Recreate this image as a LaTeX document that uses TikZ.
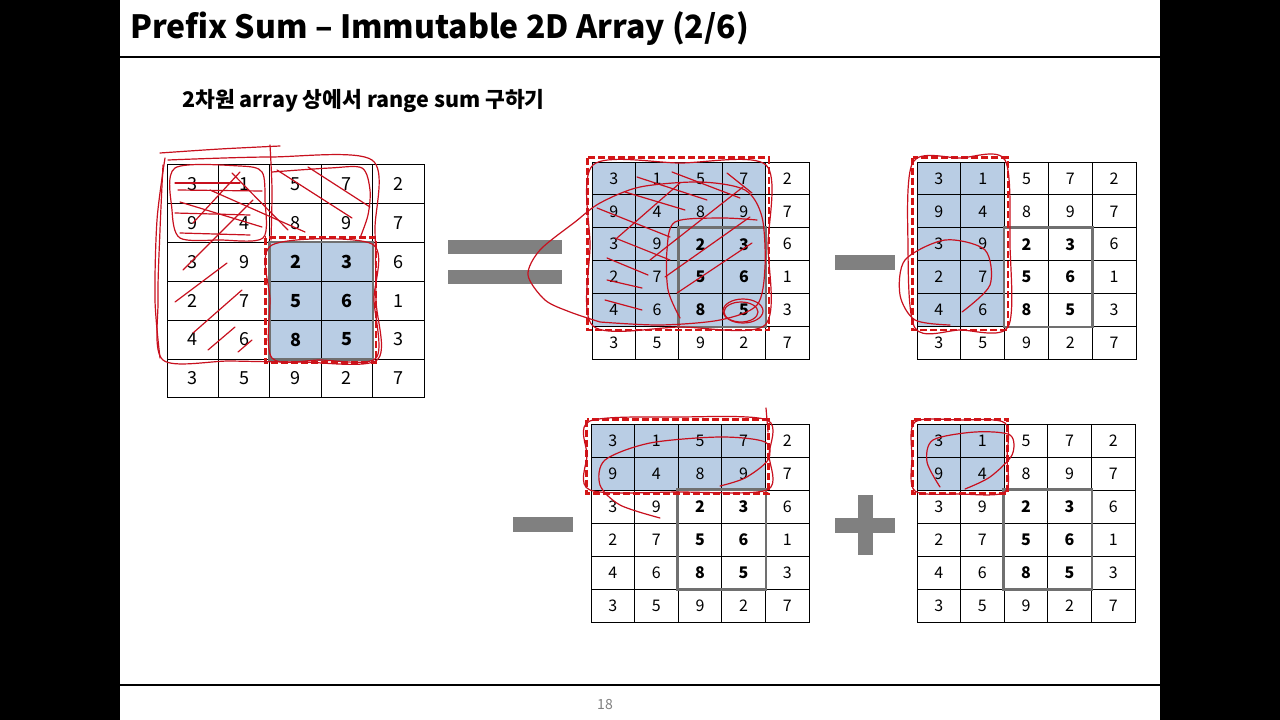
\documentclass[tikz,border=0pt]{standalone}
\usepackage{fontspec}
\setmainfont{Noto Sans CJK KR}
\usetikzlibrary{calc}

\definecolor{cellblue}{RGB}{185,205,228}
\definecolor{framegray}{RGB}{112,112,112}
\definecolor{opgray}{RGB}{128,128,128}
\definecolor{dashred}{RGB}{212,22,22}
\definecolor{inkred}{RGB}{200,16,30}

% one 5x6 number grid: name, top left x/y, cell w/h, shaded cols, shaded rows
\newcommand{\numgrid}[9]{%
  \foreach \vals [count=\r] in {{3,1,5,7,2},{9,4,8,9,7},{3,9,2,3,6},{2,7,5,6,1},{4,6,8,5,3},{3,5,9,2,7}}{
    \foreach \v [count=\c] in \vals {
      \pgfmathtruncatemacro\isshaded{(\c>=#6)&&(\c<=#7)&&(\r>=#8)&&(\r<=#9)}
      \pgfmathtruncatemacro\isbold{(\c>=3)&&(\c<=4)&&(\r>=3)&&(\r<=5)}
      \ifnum\isshaded=1 \def\cellcol{cellblue}\else\def\cellcol{white}\fi
      \ifnum\isbold=1 \def\cellfont{\bfseries}\else\def\cellfont{}\fi
      \node[cell, fill=\cellcol, minimum width=#4pt, minimum height=#5pt]
        (#1-\r-\c) at ({#2+(\c-0.5)*#4},{#3+(\r-0.5)*#5}) {\cellfont\v};
    }
  }
  \draw[boldframe] (#1-3-3.north west) rectangle (#1-5-4.south east);
  \draw[redbox] ($(#1-#8-#6.north west)+(-4,-4)$) rectangle ($(#1-#9-#7.south east)+(3,3)$);
}

\begin{document}
\begin{tikzpicture}[
    x=1pt, y=-1pt,
    cell/.style={draw=black, line width=0.9pt, inner sep=0pt, font=\fontsize{16}{16}\selectfont},
    boldframe/.style={draw=framegray, line width=2.6pt},
    redbox/.style={draw=dashred, line width=2.8pt, dash pattern=on 7pt off 3pt},
    opbar/.style={fill=opgray, inner sep=0pt},
    ink/.style={draw=inkred, line width=1.2pt, line cap=round, line join=round},
    title/.style={anchor=west, inner sep=0pt, font=\fontsize{32}{38}\selectfont\bfseries},
    subtitle/.style={anchor=west, inner sep=0pt, font=\fontsize{21.5}{24}\selectfont\bfseries}
  ]
  \useasboundingbox (0,0) rectangle (1280,720);
  \fill[black] (0,0) rectangle (1280,720);
  \fill[white] (120,0) rectangle (1160,720);

  % title and rules
  \node[title] (head) at (130,29) {Prefix Sum – Immutable 2D Array (2/6)};
  \draw[line width=1.5pt] (120,57) -- (1160,57);
  \node[subtitle] (sub) at (182,101) {2차원 array 상에서 range sum 구하기};
  \draw[line width=1.5pt] (120,685) -- (1160,685);
  \node[text=opgray, font=\fontsize{14}{14}\selectfont] (page) at (605,705) {18};

  % grids
  \begin{scope}[cell/.append style={font=\fontsize{18}{18}\selectfont}]
    \numgrid{g1}{167}{164.5}{51.4}{38.9}{3}{4}{3}{5}
  \end{scope}
  \numgrid{g2}{592}{162}{43.4}{32.9}{1}{4}{1}{5}
  \numgrid{g3}{917}{162}{43.8}{32.9}{1}{2}{1}{5}
  \numgrid{g4}{591}{424}{43.6}{33}{1}{4}{1}{2}
  \numgrid{g5}{917}{424}{43.6}{33}{1}{2}{1}{2}

  % operators
  \node[opbar, minimum width=114pt, minimum height=14pt] (eqtop) at (505,247) {};
  \node[opbar, minimum width=114pt, minimum height=14pt] (eqbot) at (505,277) {};
  \node[opbar, minimum width=60pt, minimum height=15pt] (minusa) at (865,262.5) {};
  \node[opbar, minimum width=60pt, minimum height=15pt] (minusb) at (543,524.5) {};
  \node[opbar, minimum width=60pt, minimum height=15pt] (plush) at (865,525.5) {};
  \node[opbar, minimum width=15pt, minimum height=60pt] (plusv) at (865.5,525) {};

  % handwritten notes, grid 1
  \draw[ink] plot[smooth] coordinates {(160,153) (220,149) (280,146)};
  \draw[ink] plot[smooth] coordinates {(168,160) (270,157) (372,160) (375,230) (376,300) (377,360) (300,362) (230,361) (163,360) (158,300) (160,230) (163,165)};
  \draw[ink] plot[smooth] coordinates {(165,158) (157,220) (155,300) (160,358)};
  \draw[ink] plot[smooth] coordinates {(272,172) (330,168) (362,168) (370,190) (368,215) (360,238)};
  \draw[ink] plot[smooth cycle] coordinates {(175,168) (240,166) (262,172) (265,200) (263,238) (220,240) (180,238) (172,210)};
  \draw[ink] plot[smooth] coordinates {(270,145) (272,190) (271,240)};
  \draw[ink] plot[smooth cycle] coordinates {(272,245) (372,244) (374,300) (376,358) (320,360) (272,358) (270,300)};
  \draw[ink] (175,183) -- (240,183);
  \draw[ink] (178,190) -- (262,191);
  \draw[ink] (180,202) -- (262,227);
  \draw[ink] (210,190) -- (305,232);
  \draw[ink] (232,173) -- (288,230);
  \draw[ink] (277,170) -- (352,218);
  \draw[ink] (308,167) -- (370,207);
  \draw[ink] (175,213) -- (250,215);
  \draw[ink] (180,233) -- (250,235);
  \draw[ink] (193,223) -- (240,172);
  \draw[ink] (183,270) -- (253,200);
  \draw[ink] (175,302) -- (227,263);
  \draw[ink] (193,333) -- (242,290);
  \draw[ink] (208,350) -- (235,327);
  \draw[ink] (238,352) -- (252,340);

  % handwritten notes, grid 2
  \draw[ink] plot[smooth cycle] coordinates {(593,165) (680,163) (766,165) (768,245) (765,325) (680,327) (593,326) (590,245)};
  \draw[ink] plot[smooth] coordinates {(600,322) (570,312) (545,300) (528,275) (540,250) (575,222) (600,203) (640,187) (700,182) (745,190) (762,217) (765,267) (757,305) (720,320) (660,325) (600,322)};
  \draw[ink] plot[smooth] coordinates {(680,318) (668,290) (667,250) (675,222) (720,218) (757,220)};
  \draw[ink] (743,311) ellipse (20 and 12);
  \draw[ink] (741,312) ellipse (17 and 10);
  \draw[ink] (637,177) -- (707,200);
  \draw[ink] (672,172) -- (740,198);
  \draw[ink] (625,192) -- (685,210);
  \draw[ink] (727,173) -- (752,193);
  \draw[ink] (597,208) -- (670,237);
  \draw[ink] (615,238) -- (670,260);
  \draw[ink] (607,258) -- (648,275);
  \draw[ink] (607,280) -- (642,288);
  \draw[ink] (605,300) -- (642,310);
  \draw[ink] (617,238) -- (680,183);
  \draw[ink] (650,260) -- (743,187);
  \draw[ink] (665,277) -- (750,217);
  \draw[ink] (677,293) -- (752,243);

  % handwritten notes, grid 3
  \draw[ink] plot[smooth cycle] coordinates {(913,162) (960,158) (1005,160) (1010,245) (1008,327) (960,330) (915,328) (908,245)};
  \draw[ink] plot[smooth] coordinates {(962,312) (990,285) (985,250) (945,240) (905,260) (900,295) (915,320) (950,325)};

  % handwritten notes, grid 4
  \draw[ink] plot[smooth cycle] coordinates {(590,421) (680,417) (767,420) (769,455) (767,490) (680,492) (590,490) (587,455)};
  \draw[ink] plot[smooth] coordinates {(766,408) (768,432)};
  \draw[ink] plot[smooth] coordinates {(660,518) (620,505) (600,485) (605,460) (650,443) (720,437) (765,442) (768,460) (745,478) (720,486)};

  % handwritten notes, grid 5
  \draw[ink] plot[smooth cycle] coordinates {(915,422) (960,420) (1005,423) (1007,458) (1005,492) (960,494) (915,491) (912,457)};
  \draw[ink] plot[smooth] coordinates {(940,487) (927,462) (933,440) (975,432) (1010,435) (1012,455) (990,477) (965,489)};
\end{tikzpicture}
\end{document}
